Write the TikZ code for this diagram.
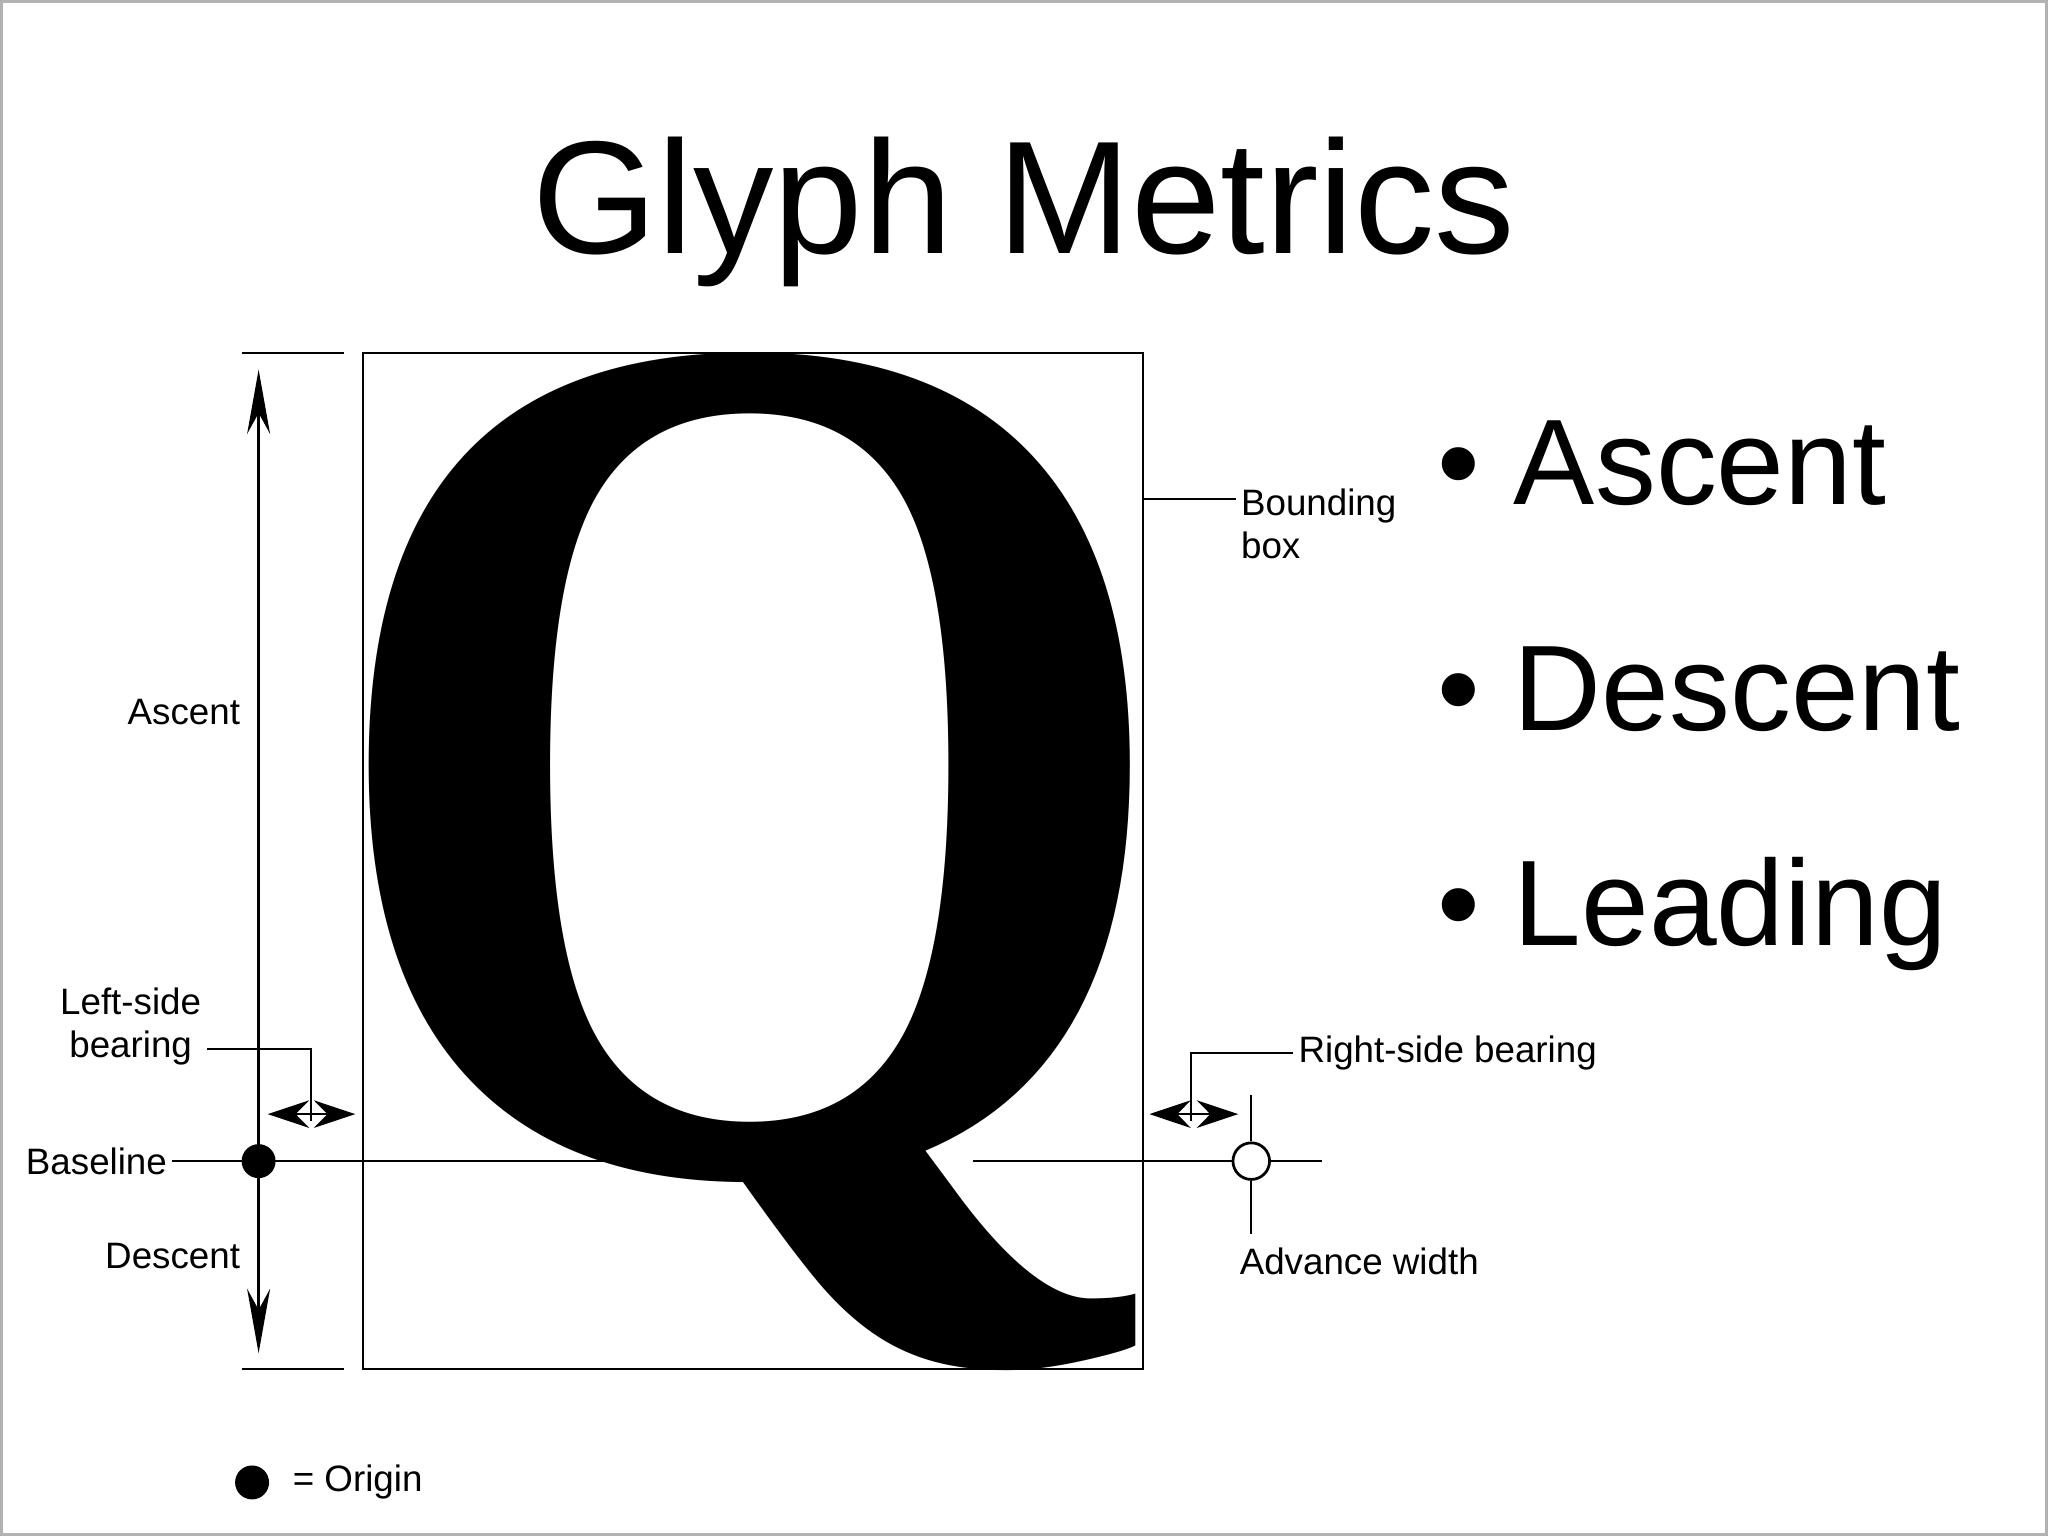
\documentclass[tikz,border=0pt]{standalone}
\usepackage{fontspec}
\setmainfont{Liberation Sans}
\newfontfamily\qfont{Liberation Serif}
\usetikzlibrary{arrows.meta}
\tikzset{lbl/.style={font=\fontsize{8}{9.5}\selectfont,inner sep=1pt},
 thinln/.style={line width=0.5pt},
 big/.style={font=\fontsize{26.5}{30}\selectfont,anchor=west,inner sep=0}}
\begin{document}
\begin{tikzpicture}[x=0.01cm,y=-0.01cm]
\useasboundingbox (0,0) rectangle (1568,1176);
\draw[gray!60,line width=0.6pt] (1,1) rectangle (1567,1175);
\node[inner sep=0] (title) at (784,162) {\fontsize{35}{38}\selectfont Glyph Metrics};
% glyph
\node[inner sep=0] (q) at (574,660) {\resizebox*{66.5mm}{77.8mm}{\qfont\bfseries Q}};
\draw[thinln] (278,270) rectangle (875,1048);
% ascent/descent
\draw[thinln] (185,270) -- (263,270);
\draw[thinln] (185,1048) -- (263,1048);
\coordinate (at) at (198,283);
\coordinate (ab) at (198,1036);
\draw[thinln,{Stealth[length=14pt,width=5pt]}-{Stealth[length=14pt,width=5pt]}] (at) -- (ab);
\node[lbl,anchor=east] (asc) at (188,545) {Ascent};
\node[lbl,anchor=east] (desc) at (188,962) {Descent};
% baseline
\node[lbl,anchor=east] (base) at (132,889) {Baseline};
\coordinate (bq1) at (472,889);
\coordinate (bq2) at (745,889);
\coordinate (bend) at (1012,889);
\draw[thinln] (base.east) -- (bq1);
\draw[thinln] (bq2) -- (bend);
\fill (198,889) circle (13) node (origin) {};
\node[circle,draw,fill=white,minimum size=28*0.1mm,inner sep=0,line width=0.6pt] (adv) at (958,889) {};
\draw[thinln] (958,838) -- (adv.north);
\draw[thinln] (adv.south) -- (958,945);
\node[lbl,anchor=west] (advl) at (945,966) {Advance width};
% left side bearing
\node[lbl,align=center] (lsb) at (100,786) {Left-side\\bearing};
\draw[thinln] (lsb.east |- 0,803) -- (238,803) -- (238,858);
\coordinate (l1) at (205,853); \coordinate (l2) at (272,853);
\draw[thinln,{Stealth[length=9pt,width=6pt]}-{Stealth[length=9pt,width=6pt]}] (l1) -- (l2);
% right side bearing
\node[lbl,anchor=west] (rsb) at (990,806) {Right-side bearing};
\draw[thinln] (rsb.west) -- (912,806) -- (912,858);
\coordinate (r1) at (880,853); \coordinate (r2) at (948,853);
\draw[thinln,{Stealth[length=9pt,width=6pt]}-{Stealth[length=9pt,width=6pt]}] (r1) -- (r2);
% bounding box label
\node[lbl,anchor=west,align=left] (bb) at (946,401) {Bounding\\box};
\draw[thinln] (875,382) -- (946,382);
% bullets
\node[big] (b1) at (1100,355) {\textbullet\ Ascent};
\node[big] (b2) at (1100,528) {\textbullet\ Descent};
\node[big] (b3) at (1100,700) {\textbullet\ Leading};
% legend
\fill (193,1135) circle (13) node (leg) {};
\node[lbl,anchor=west] (legl) at (220,1135) {= Origin};
\end{tikzpicture}
\end{document}
